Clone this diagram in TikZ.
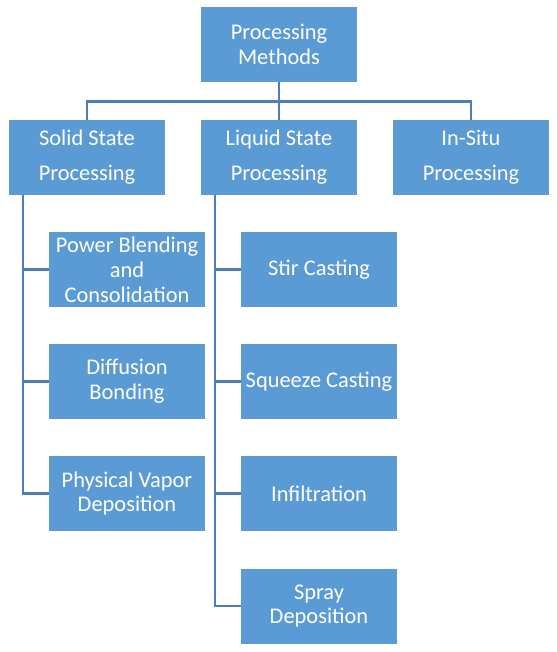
\documentclass[tikz,border=0pt]{standalone}
\usepackage{fontspec}
\setmainfont{Carlito}
\definecolor{boxfill}{HTML}{5B9BD5}
\definecolor{linec}{HTML}{4A7EBB}
\tikzset{
  box/.style={fill=boxfill, minimum width=156bp, minimum height=75bp, inner sep=0pt,
    text=white, align=center, font=\fontsize{22.5}{25}\selectfont},
  boxwide/.style={box, font=\fontsize{22.5}{35}\selectfont},
  conn/.style={draw=linec, line width=2.6bp}
}
\begin{document}
\begin{tikzpicture}[x=1bp,y=-1bp]
\useasboundingbox (0,0) rectangle (557,652);
\fill[white] (0,0) rectangle (557,652);
\node[box] (top) at (279,44.5) {Processing\\Methods};
\node[boxwide] (solid) at (87,157.5) {Solid State\\Processing};
\node[boxwide] (liquid) at (279,157.5) {Liquid State\\Processing};
\node[boxwide] (insitu) at (471,157.5) {In-Situ\\Processing};
\node[box] (pb) at (127,269.5) {Power Blending\\and\\Consolidation};
\node[box] (db) at (127,381.5) {Diffusion\\Bonding};
\node[box] (pvd) at (127,493.5) {Physical Vapor\\Deposition};
\node[box] (stir) at (319,269.5) {Stir Casting};
\node[box] (sq) at (319,381.5) {Squeeze Casting};
\node[box] (inf) at (319,493.5) {Infiltration};
\node[box] (spray) at (319,606) {Spray\\Deposition};
\draw[conn] (top.south) -- (liquid.north);
\draw[conn] (solid.north) -- ++(0,-18) -| (insitu.north);
\draw[conn] ([xshift=14bp]solid.south west) |- (pb.west);
\draw[conn] ([xshift=14bp]solid.south west) |- (db.west);
\draw[conn] ([xshift=14bp]solid.south west) |- (pvd.west);
\draw[conn] ([xshift=14bp]liquid.south west) |- (stir.west);
\draw[conn] ([xshift=14bp]liquid.south west) |- (sq.west);
\draw[conn] ([xshift=14bp]liquid.south west) |- (inf.west);
\draw[conn] ([xshift=14bp]liquid.south west) |- (spray.west);
\end{tikzpicture}
\end{document}
